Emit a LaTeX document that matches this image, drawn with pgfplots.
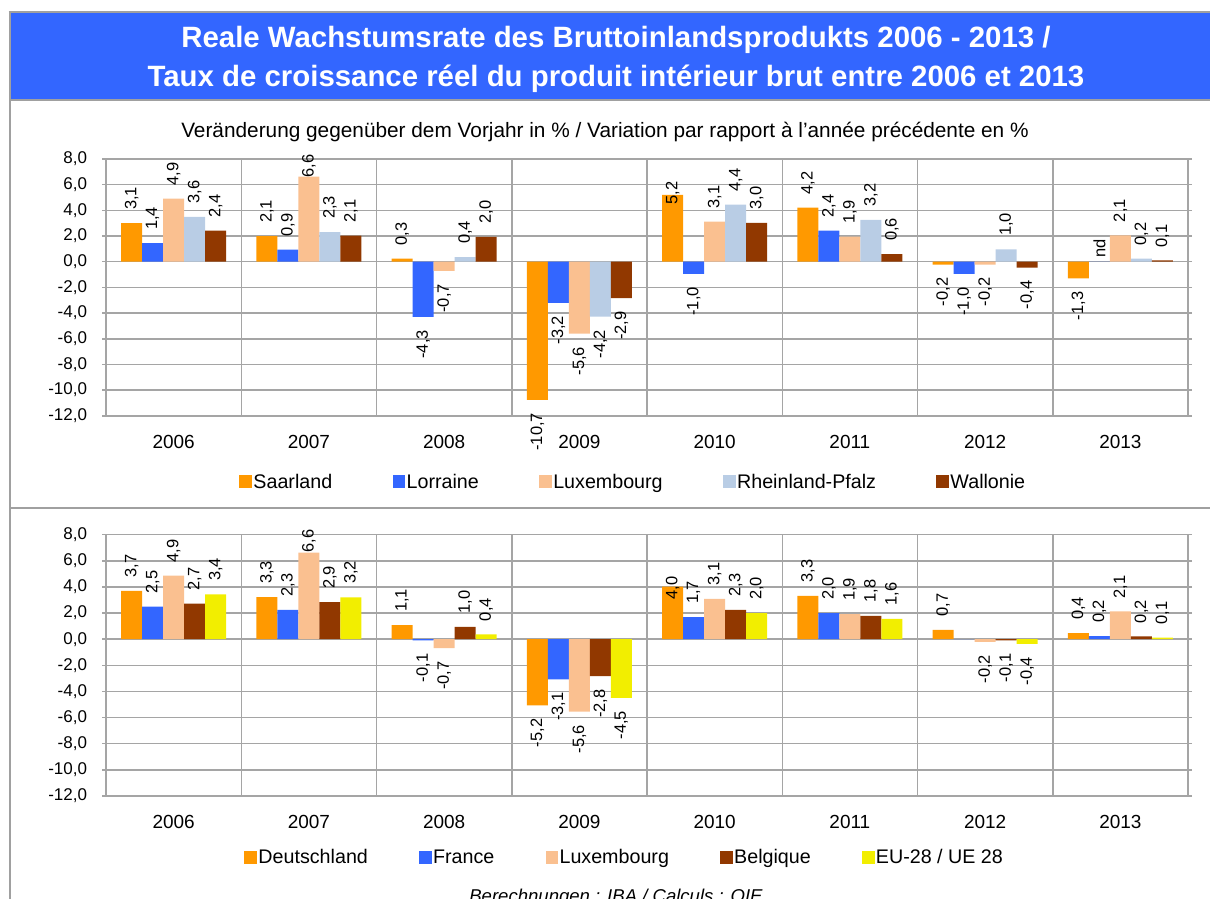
\documentclass[border=0pt]{standalone}
\usepackage{fontspec}
\setmainfont{Liberation Sans}
\usepackage{pgfplots}
\usepackage{pgfplotstable}
\pgfplotsset{compat=1.18}

\definecolor{cOrange}{RGB}{255,153,0}
\definecolor{cBlue}{RGB}{51,102,255}
\definecolor{cPeach}{RGB}{250,192,144}
\definecolor{cLightBlue}{RGB}{185,205,229}
\definecolor{cBrown}{RGB}{145,56,0}
\definecolor{cYellow}{RGB}{242,238,0}
\definecolor{titleblue}{RGB}{51,102,255}
\definecolor{framegray}{RGB}{160,160,160}
\definecolor{gridgray}{RGB}{165,165,165}

% \sh{d}: pull a label d towards its bar (label overlaps bar end)
\newcommand\sh[1]{\hspace*{-#1}}

% top panel
\pgfplotstableread{
x y lab
0 3.00 3,1
1 2.00 2,1
2 0.25 0,3
3 -10.75 -10,7
4 5.20 \sh{5.75mm}5,2
5 4.22 4,2
6 -0.22 -0,2
7 -1.30 -1,3
}\tSaar
\pgfplotstableread{
x y lab
0 1.45 1,4
1 0.95 0,9
2 -4.30 -4,3
3 -3.20 -3,2
4 -0.95 -1,0
5 2.42 2,4
6 -0.95 -1,0
7 0.00 \sh{2.25mm}nd
}\tLorr
\pgfplotstableread{
x y lab
0 4.92 4,9
1 6.62 \sh{3.5mm}6,6
2 -0.72 -0,7
3 -5.60 -5,6
4 3.13 3,1
5 1.95 1,9
6 -0.22 -0,2
7 2.05 2,1
}\tLuxA
\pgfplotstableread{
x y lab
0 3.50 3,6
1 2.30 2,3
2 0.36 0,4
3 -4.28 -4,2
4 4.45 4,4
5 3.25 3,2
6 0.97 1,0
7 0.25 0,2
}\tRP
\pgfplotstableread{
x y lab
0 2.42 2,4
1 2.03 2,1
2 1.93 2,0
3 -2.83 -2,9
4 3.02 3,0
5 0.60 0,6
6 -0.45 -0,4
7 0.10 0,1
}\tWall

% bottom panel
\pgfplotstableread{
x y lab
0 3.69 3,7
1 3.22 3,3
2 1.07 1,1
3 -5.07 -5,2
4 4.03 \sh{6.5mm}4,0
5 3.31 3,3
6 0.71 0,7
7 0.46 0,4
}\tDE
\pgfplotstableread{
x y lab
0 2.50 2,5
1 2.24 2,3
2 -0.10 -0,1
3 -3.07 -3,1
4 1.68 1,7
5 1.99 2,0
6 0.00 {}
7 0.23 0,2
}\tFR
\pgfplotstableread{
x y lab
0 4.86 4,9
1 6.62 \sh{3.25mm}6,6
2 -0.69 -0,7
3 -5.55 -5,6
4 3.08 3,1
5 1.92 1,9
6 -0.20 -0,2
7 2.12 2,1
}\tLuxB
\pgfplotstableread{
x y lab
0 2.73 2,7
1 2.84 2,9
2 0.95 1,0
3 -2.83 -2,8
4 2.24 2,3
5 1.79 1,8
6 -0.10 -0,1
7 0.22 0,2
}\tBE
\pgfplotstableread{
x y lab
0 3.44 3,4
1 3.21 3,2
2 0.37 0,4
3 -4.49 -4,5
4 2.00 2,0
5 1.56 1,6
6 -0.35 -0,4
7 0.12 0,1
}\tEU

\def\u{0.25mm}

\pgfplotsset{
  panel/.style={
    scale only axis,
    width=270.5mm,
    ybar=0pt,
    bar width=5.25mm,
    xmin=-0.5, xmax=7.5,
    ymin=-12, ymax=8,
    ytick={-12,-10,...,8},
    xtick={0,...,7},
    xticklabels={2006,2007,2008,2009,2010,2011,2012,2013},
    minor xtick={0.5,1.5,...,6.5},
    xminorgrids=true,
    ymajorgrids=true,
    grid style={draw=gridgray, line width=0.375mm},
    minor grid style={draw=gridgray, line width=0.375mm},
    axis line style={draw=gridgray, line width=0.375mm},
    x tick style={draw=none},
    minor tick length=0pt,
    y tick style={draw=gridgray, line width=0.375mm},
    ytick align=outside,
    major tick length=1mm,
    xticklabel style={font=\fontsize{13.5}{16}\selectfont, yshift=-2.7mm},
    yticklabel style={font=\fontsize{12.1}{14}\selectfont, xshift=-2.5mm,
      /pgf/number format/.cd, fixed, fixed zerofill, precision=1, use comma, assume math mode=true},
    clip=false,
    point meta=explicit symbolic,
    nodes near coords,
    visualization depends on={rawy \as \rawy},
    every node near coord/.append style={rotate=90,
      anchor=\ifdim\rawy pt<0pt east\else west\fi,
      inner xsep=3.25mm, inner ysep=0pt, text=black,
      font=\fontsize{11.7}{13}\selectfont},
    legend columns=5,
    legend cell align=left,
    legend image code/.code={\fill[##1] (0mm,-1.5mm) rectangle (3.2mm,1.7mm);},
    legend style={draw=none, fill=none, anchor=center,
      font=\fontsize{14}{16}\selectfont,
      nodes={inner sep=0.3mm}},
  }
}

\begin{document}
\begin{tikzpicture}
\useasboundingbox (0,0) rectangle (1210*\u,-899*\u);
\clip (0,0) rectangle (1210*\u,-899*\u);

% frame and title
\fill[titleblue] (10*\u,-13.5*\u) rectangle (1212*\u,-99.5*\u);
\draw[framegray, line width=2*\u] (8.5*\u,-12.5*\u) -- (1212*\u,-12.5*\u);
\draw[framegray, line width=2*\u] (9.5*\u,-12*\u) -- (9.5*\u,-905*\u);
\draw[framegray, line width=2*\u] (9*\u,-100.5*\u) -- (1212*\u,-100.5*\u);
\draw[framegray, line width=2*\u] (9*\u,-508*\u) -- (1212*\u,-508*\u);

\node[anchor=base, text=white, font=\bfseries\fontsize{20.9}{24}\selectfont, inner sep=0pt]
  at (616*\u,-47.5*\u) {Reale Wachstumsrate des Bruttoinlandsprodukts 2006 - 2013 /};
\node[anchor=base, text=white, font=\bfseries\fontsize{20.9}{24}\selectfont, inner sep=0pt]
  at (616*\u,-86.8*\u) {Taux de croissance réel du produit intérieur brut entre 2006 et 2013};
\node[anchor=base, font=\fontsize{14.8}{17}\selectfont, inner sep=0pt]
  at (605*\u,-137.5*\u) {Veränderung gegenüber dem Vorjahr in \% / Variation par rapport à l’année précédente en \%};
\node[anchor=base, font=\itshape\fontsize{13.2}{16}\selectfont, inner sep=0pt]
  at (616*\u,-902*\u) {Berechnungen : IBA / Calculs : OIE};

\coordinate (topNW) at (106*\u,-159*\u);
\coordinate (botNW) at (106*\u,-534.7*\u);

\begin{axis}[panel, at={(topNW)}, anchor=north west, height=64.2mm,
  legend style={at={(0.487,-0.258)},
    /tikz/every even column/.append style={column sep=14.8mm}}]
\addplot[fill=cOrange, draw=none] table[x=x,y=y,meta=lab]{\tSaar};
\addplot[fill=cBlue, draw=none] table[x=x,y=y,meta=lab]{\tLorr};
\addplot[fill=cPeach, draw=none] table[x=x,y=y,meta=lab]{\tLuxA};
\addplot[fill=cLightBlue, draw=none] table[x=x,y=y,meta=lab]{\tRP};
\addplot[fill=cBrown, draw=none] table[x=x,y=y,meta=lab]{\tWall};
\legend{Saarland,Lorraine,Luxembourg,Rheinland-Pfalz,Wallonie}
\end{axis}

\begin{axis}[panel, at={(botNW)}, anchor=north west, height=65.3mm,
  legend style={at={(0.479,-0.237)},
    /tikz/every even column/.append style={column sep=12.5mm}}]
\addplot[fill=cOrange, draw=none] table[x=x,y=y,meta=lab]{\tDE};
\addplot[fill=cBlue, draw=none] table[x=x,y=y,meta=lab]{\tFR};
\addplot[fill=cPeach, draw=none] table[x=x,y=y,meta=lab]{\tLuxB};
\addplot[fill=cBrown, draw=none] table[x=x,y=y,meta=lab]{\tBE};
\addplot[fill=cYellow, draw=none] table[x=x,y=y,meta=lab]{\tEU};
\legend{Deutschland,France,Luxembourg,Belgique,EU-28 / UE 28}
\end{axis}
\end{tikzpicture}
\end{document}
